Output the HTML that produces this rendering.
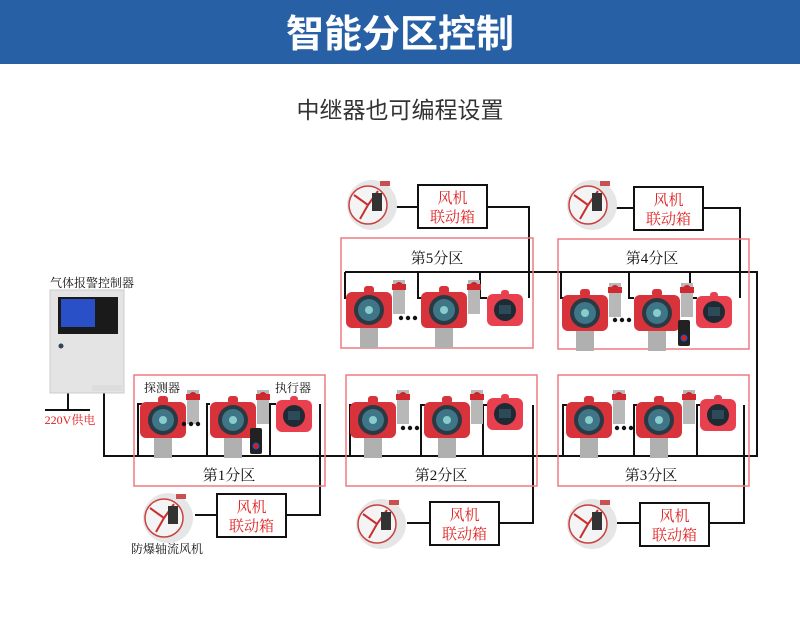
<!DOCTYPE html>
<html><head><meta charset="utf-8"><style>
html,body{margin:0;padding:0;background:#fff;width:800px;height:638px;overflow:hidden}
svg{display:block}
.s{font-family:"Liberation Serif","Noto Serif CJK SC",serif}
.h{font-family:"Liberation Sans","Noto Sans CJK SC",sans-serif}
</style></head><body>
<svg width="800" height="638" viewBox="0 0 800 638" xmlns="http://www.w3.org/2000/svg">
<defs>
<g id="det">
  <rect x="47" y="0" width="12" height="34" fill="#b8b8b8"/>
  <path d="M47 8 Q53 -4 59 8 Z" fill="#c8202a"/>
  <rect x="46" y="4" width="14" height="6" fill="#d02a30"/>
  <rect x="14" y="46" width="18" height="22" fill="#b0b0b0"/>
  <rect x="0" y="12" width="46" height="36" rx="6" fill="#d8323a"/>
  <rect x="18" y="6" width="10" height="8" rx="3" fill="#d8323a"/>
  <circle cx="23" cy="30" r="15" fill="#2a3a44"/>
  <circle cx="23" cy="30" r="11" fill="#3e7688"/>
  <circle cx="23" cy="30" r="4" fill="#8cc"/>
</g>
<g id="exe">
  <rect x="0" y="4" width="36" height="32" rx="6" fill="#e8404e"/>
  <rect x="14" y="0" width="8" height="6" rx="3" fill="#e8404e"/>
  <circle cx="18" cy="20" r="11" fill="#1e2a34"/>
  <rect x="12" y="15" width="12" height="9" fill="#2c4a58"/>
</g>
<g id="fan">
  <circle cx="0" cy="0" r="25" fill="#e6e6e6"/>
  <circle cx="-4" cy="0" r="19" fill="#f4f4f4" stroke="#c84040" stroke-width="1.5"/>
  <path d="M-4 0 L-18 -10 M-4 0 L-12 14 M-4 0 L6 -14" stroke="#c83030" stroke-width="2"/>
  <rect x="0" y="-12" width="10" height="18" fill="#333"/>
  <rect x="8" y="-24" width="10" height="5" fill="#c85050"/>
</g>
<g id="box">
  <rect x="0" y="0" width="69" height="43" fill="#fff" stroke="#111" stroke-width="2"/>
  <text x="34.5" y="18" text-anchor="middle" class="s" font-size="15" fill="#e02020">风机</text>
  <text x="34.5" y="37" text-anchor="middle" class="s" font-size="15" fill="#e02020">联动箱</text>
</g>
<g id="dots"><circle cx="0" cy="0" r="2.2" fill="#111"/><circle cx="7" cy="0" r="2.2" fill="#111"/><circle cx="14" cy="0" r="2.2" fill="#111"/></g>
<g id="remote"><rect x="0" y="0" width="12" height="26" rx="2" fill="#222"/><circle cx="6" cy="18" r="3.5" fill="#3050c0"/><rect x="4" y="16" width="4" height="4" fill="#d02020"/></g>
</defs>

<rect x="0" y="0" width="800" height="64" fill="#2860a6"/>
<text x="400" y="47" text-anchor="middle" class="h" font-size="38" font-weight="bold" fill="#fff">智能分区控制</text>
<text x="400" y="118" text-anchor="middle" class="h" font-size="23" fill="#333">中继器也可编程设置</text>

<g stroke="#111" stroke-width="2" fill="none">
  <!-- main bus -->
  <path d="M104 393 V456 H757 V272 H345"/>
  <!-- controller power -->
  <path d="M68 393 V410 M45 410 H90"/>
  <!-- zone1 branches -->
  <path d="M138 456 V404 H142 M207 456 V404 H210 M270 456 V404 H276"/>
  <path d="M320 404 V515 H287"/><path d="M217 515 H195"/>
  <!-- zone2 -->
  <path d="M350 456 V405 H352 M421 456 V405 H425 M483 456 V405 H487"/>
  <path d="M533 405 V523 H500"/><path d="M430 523 H407"/>
  <!-- zone3 -->
  <path d="M563 456 V405 H567 M634 456 V405 H637 M697 456 V405 H701"/>
  <path d="M744 405 V523 H708"/><path d="M640 523 H617"/>
  <!-- zone5 -->
  <path d="M345 272 V298 H348 M418 272 V298 H422 M480 272 V298 H487"/>
  <path d="M529 298 V207 H488"/><path d="M418 207 H396"/>
  <!-- zone4 -->
  <path d="M561 272 V298 H564 M629 272 V298 H634 M690 272 V298 H697"/>
  <path d="M740 298 V208 H702"/><path d="M635 208 H612"/>
</g>

<!-- zone boxes -->
<g fill="none" stroke="#ef7a80" stroke-width="1.5">
  <rect x="134" y="375" width="191" height="111"/>
  <rect x="346" y="375" width="191" height="111"/>
  <rect x="558" y="375" width="191" height="111"/>
  <rect x="341" y="238" width="192" height="110"/>
  <rect x="558" y="239" width="191" height="110"/>
</g>
<g class="s" font-size="15" fill="#111" text-anchor="middle">
  <text x="229" y="480">第1分区</text>
  <text x="441" y="480">第2分区</text>
  <text x="651" y="480">第3分区</text>
  <text x="437" y="263">第5分区</text>
  <text x="652" y="263">第4分区</text>
</g>

<!-- controller -->
<text x="92" y="287" text-anchor="middle" class="s" font-size="12" fill="#111">气体报警控制器</text>
<rect x="50" y="290" width="74" height="103" fill="#e4e4e4" stroke="#ccc"/>
<rect x="58" y="297" width="60" height="37" fill="#1a1a1a"/>
<rect x="61" y="299" width="34" height="28" fill="#2a50c8"/>
<circle cx="61" cy="346" r="2.5" fill="#345"/>
<rect x="92" y="385" width="30" height="6" fill="#ddd"/>
<text x="70" y="424" text-anchor="middle" class="s" font-size="12" fill="#e02020">220V供电</text>

<!-- zone1 devices -->
<text x="162" y="392" text-anchor="middle" class="s" font-size="12" fill="#111">探测器</text>
<text x="293" y="392" text-anchor="middle" class="s" font-size="12" fill="#111">执行器</text>
<use href="#det" x="140" y="390"/><use href="#dots" x="184" y="424"/>
<use href="#det" x="210" y="390"/><use href="#remote" x="250" y="428"/>
<use href="#exe" x="276" y="396"/>
<use href="#fan" x="168" y="518"/><use href="#box" x="217" y="494"/>
<text x="167" y="553" text-anchor="middle" class="s" font-size="12" fill="#111">防爆轴流风机</text>

<!-- zone2 -->
<use href="#det" x="350" y="390"/><use href="#dots" x="403" y="428"/>
<use href="#det" x="424" y="390"/>
<use href="#exe" x="487" y="394"/>
<use href="#fan" x="381" y="524"/><use href="#box" x="430" y="502"/>

<!-- zone3 -->
<use href="#det" x="566" y="390"/><use href="#dots" x="617" y="428"/>
<use href="#det" x="636" y="390"/>
<use href="#exe" x="700" y="395"/>
<use href="#fan" x="592" y="524"/><use href="#box" x="640" y="503"/>

<!-- zone5 -->
<use href="#det" x="346" y="280"/><use href="#dots" x="401" y="318"/>
<use href="#det" x="421" y="280"/>
<use href="#exe" x="487" y="290"/>
<use href="#fan" x="372" y="205"/><use href="#box" x="418" y="185"/>

<!-- zone4 -->
<use href="#det" x="562" y="283"/><use href="#dots" x="615" y="320"/>
<use href="#det" x="634" y="283"/><use href="#remote" x="678" y="320"/>
<use href="#exe" x="696" y="292"/>
<use href="#fan" x="592" y="205"/><use href="#box" x="634" y="187"/>
</svg>
</body></html>
